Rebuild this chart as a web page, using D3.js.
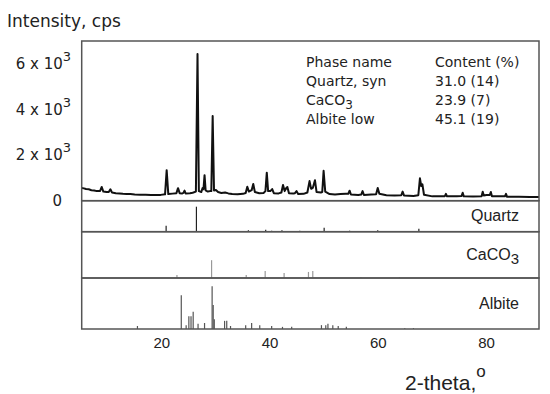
<!DOCTYPE html>
<html lang="en">
<head>
    <meta charset="UTF-8">
    <title>XRD pattern</title>
    <script src="https://cdn.jsdelivr.net/npm/d3@7"></script>
    <style>
        body { margin: 0; background: #fff; }
        svg { display: block; }
    </style>
</head>
<body>
    <div id="chart"></div>
    <script>
        // measured pattern (2-theta, cps)
        const twoTheta = [5.2, 5.6, 6.0, 6.5, 7.0, 7.5, 8.0, 8.6, 8.9, 9.2, 9.8, 10.2, 10.5, 10.8, 11.5, 12.2, 12.8, 13.5, 14.2, 15.0,
            16.0, 17.0, 18.0, 19.0, 19.8, 20.6, 20.9, 21.2, 22.0, 22.7, 23.0, 23.3, 23.8, 24.0, 24.2, 24.4, 25.2, 25.7, 26.3, 26.6,
            26.85, 27.3, 27.55, 27.7, 27.9, 28.1, 28.5, 28.9, 29.15, 29.4, 29.65, 30.0, 30.4, 31.0, 31.7, 32.3, 33.0, 34.0, 35.0, 35.5,
            35.8, 36.1, 36.6, 36.9, 37.2, 38.0, 38.8, 39.15, 39.4, 39.65, 40.1, 40.4, 40.7, 41.6, 42.1, 42.4, 42.7, 43.0, 43.2, 43.5,
            44.3, 44.6, 44.9, 45.2, 46.2, 46.9, 47.3, 47.6, 47.9, 48.3, 48.6, 49.4, 49.65, 49.9, 50.2, 51.0, 52.0, 53.0, 54.0, 54.45,
            54.7, 54.95, 56.3, 56.85, 57.1, 57.35, 58.7, 59.6, 59.9, 60.2, 61.5, 63.0, 64.25, 64.5, 64.75, 66.5, 67.4, 67.7, 67.95, 68.15,
            68.45, 70.0, 71.5, 72.3, 72.5, 72.7, 74.5, 75.4, 75.6, 75.8, 77.5, 79.1, 79.3, 79.5, 80.0, 80.6, 80.8, 81.0, 82.8, 83.4,
            83.6, 83.8, 86.0, 88.0, 89.7];
        const intensity = [560, 540, 510, 500, 460, 450, 420, 430, 600, 400, 380, 380, 500, 360, 330, 320, 300, 290, 290, 270,
            265, 260, 250, 250, 255, 280, 1340, 290, 310, 330, 550, 330, 320, 340, 440, 320, 330, 350, 400, 6430,
            420, 380, 560, 500, 1120, 450, 400, 420, 420, 3710, 450, 470, 380, 340, 360, 320, 290, 280, 300, 340,
            610, 400, 460, 730, 380, 330, 340, 420, 1230, 420, 430, 510, 330, 320, 360, 690, 420, 560, 600, 330,
            320, 330, 420, 290, 300, 360, 860, 520, 560, 900, 380, 360, 380, 1310, 400, 290, 270, 290, 300, 300,
            440, 270, 250, 270, 420, 250, 270, 280, 560, 300, 240, 230, 240, 400, 230, 210, 240, 980, 640, 720,
            260, 190, 200, 200, 300, 190, 200, 210, 350, 190, 180, 200, 390, 230, 250, 250, 380, 190, 190, 190,
            300, 170, 170, 160, 160];

        // reference patterns: positions and relative intensities
        const quartzPos = [20.8, 26.4, 36.0, 39.2, 40.3, 42.2, 45.5, 50.0, 54.7, 59.9, 64.0, 67.5, 73.5, 75.6, 79.9, 81.5];
        const quartzInt = [24, 100, 6, 8, 4, 6, 4, 16, 4, 6, 3, 12, 3, 3, 2, 2];
        const calcitePos = [22.8, 29.2, 35.6, 39.1, 42.6, 47.1, 47.9, 56.8, 63.9];
        const calciteInt = [17, 100, 17, 40, 28, 34, 40, 6, 6];
        const albitePos = [15.5, 23.6, 24.5, 25.0, 25.4, 25.8, 26.7, 27.9, 29.3, 29.5, 29.7, 31.6, 32.0, 32.7, 35.5, 36.6,
            38.1, 40.3, 42.3, 44.0, 49.5, 50.3, 50.7, 51.6, 52.6, 54.1, 64.9, 66.5];
        const albiteInt = [7, 79, 9, 30, 30, 40, 12, 14, 100, 56, 23, 19, 19, 7, 9, 14,
            9, 7, 5, 5, 9, 9, 12, 9, 7, 5, 2, 2];

        const yTicks = [0, 2000, 4000, 6000];
        const xTicks = [20, 40, 60, 80];
        const phaseNames = ["Quartz, syn", "CaCO", "Albite low"];
        const phaseContent = ["31.0 (14)", "23.9 (7)", "45.1 (19)"];

        const width = 550, height = 394;
        const left = 81.7, right = 539;
        const sansA = "'DejaVu Sans', sans-serif";
        const sansB = "'Liberation Sans', Arial, sans-serif";

        const svg = d3.select("#chart").append("svg")
            .attr("width", width)
            .attr("height", height);

        const x = d3.scaleLinear().domain([5.2, 89.7]).range([left, right]);
        const y = d3.scaleLinear().domain([0, 7000]).range([200.7, 41]);

        // panels: main, Quartz, CaCO3, Albite
        const panels = [
            { top: 41, bottom: 200.7 },
            { top: 200.7, bottom: 231.7, pos: quartzPos, val: quartzInt, max: 124, color: "#222" },
            { top: 231.7, bottom: 278, pos: calcitePos, val: calciteInt, max: 260, color: "#999" },
            { top: 278, bottom: 329, pos: albitePos, val: albiteInt, max: 119, color: "#555" }
        ];

        panels.slice(1).forEach(p => {
            const py = d3.scaleLinear().domain([0, p.max]).range([p.bottom, p.top]);
            svg.append("g")
                .selectAll("line")
                .data(p.pos.map((d, i) => ({ t: d, v: p.val[i] })))
                .join("line")
                .attr("x1", d => x(d.t))
                .attr("x2", d => x(d.t))
                .attr("y1", py(0))
                .attr("y2", d => py(d.v))
                .attr("stroke", p.color)
                .attr("stroke-width", 1.2);
        });

        const line = d3.line()
            .x((d, i) => x(twoTheta[i]))
            .y(d => y(d));

        svg.append("path")
            .datum(intensity)
            .attr("d", line)
            .attr("fill", "none")
            .attr("stroke", "#111")
            .attr("stroke-width", 2)
            .attr("stroke-linejoin", "round");

        panels.forEach(p => {
            svg.append("rect")
                .attr("x", left)
                .attr("y", p.top)
                .attr("width", right - left)
                .attr("height", p.bottom - p.top)
                .attr("fill", "none")
                .attr("stroke", "#555")
                .attr("stroke-width", 1.5);
        });

        // y tick labels
        yTicks.forEach(t => {
            const txt = svg.append("text")
                .attr("y", y(t))
                .attr("dy", "0.36em")
                .attr("text-anchor", "end")
                .style("font-family", sansA)
                .style("font-size", "15px")
                .attr("fill", "#222");
            if (t === 0) {
                txt.attr("x", 62).text("0");
            } else {
                txt.attr("x", 71);
                txt.append("tspan").text(`${t / 1000} x 10`);
                txt.append("tspan").attr("dy", -8).style("font-size", "13px").text("3");
            }
        });

        // x tick labels
        svg.append("g")
            .selectAll("text")
            .data(xTicks)
            .join("text")
            .attr("x", d => x(d))
            .attr("y", 348)
            .attr("text-anchor", "middle")
            .style("font-family", sansB)
            .style("font-size", "15px")
            .attr("fill", "#222")
            .text(d => d);

        svg.append("text")
            .attr("x", 7)
            .attr("y", 27)
            .style("font-family", sansA)
            .style("font-size", "17px")
            .attr("fill", "#222")
            .text("Intensity, cps");

        const xl = svg.append("text")
            .attr("x", 405)
            .attr("y", 390)
            .style("font-family", sansB)
            .style("font-size", "21px")
            .attr("fill", "#222");
        xl.append("tspan").text("2-theta,");
        xl.append("tspan").attr("dy", -13).style("font-size", "17px").text("o");

        // phase labels in the stick panels
        const lab = (txt, yy) => svg.append("text")
            .attr("x", 519).attr("y", yy)
            .attr("text-anchor", "end")
            .style("font-family", sansB)
            .style("font-size", "16px")
            .attr("fill", "#222")
            .text(txt);
        lab("Quartz", 221);
        const cl = lab("", 260);
        cl.append("tspan").text("CaCO");
        cl.append("tspan").attr("dy", 4).style("font-size", "15px").text("3");
        lab("Albite", 309);

        // phase table
        const tbl = svg.append("g")
            .style("font-family", sansA)
            .style("font-size", "14px")
            .attr("fill", "#222");
        tbl.append("text").attr("x", 306).attr("y", 67).text("Phase name");
        tbl.append("text").attr("x", 435).attr("y", 67).text("Content (%)");
        phaseNames.forEach((n, i) => {
            const t = tbl.append("text").attr("x", 306).attr("y", 86 + i * 19);
            t.append("tspan").text(n);
            if (n === "CaCO") t.append("tspan").attr("dy", 4).style("font-size", "12px").text("3");
        });
        phaseContent.forEach((c, i) => {
            tbl.append("text").attr("x", 435).attr("y", 86 + i * 19).text(c);
        });
    </script>
</body>
</html>
